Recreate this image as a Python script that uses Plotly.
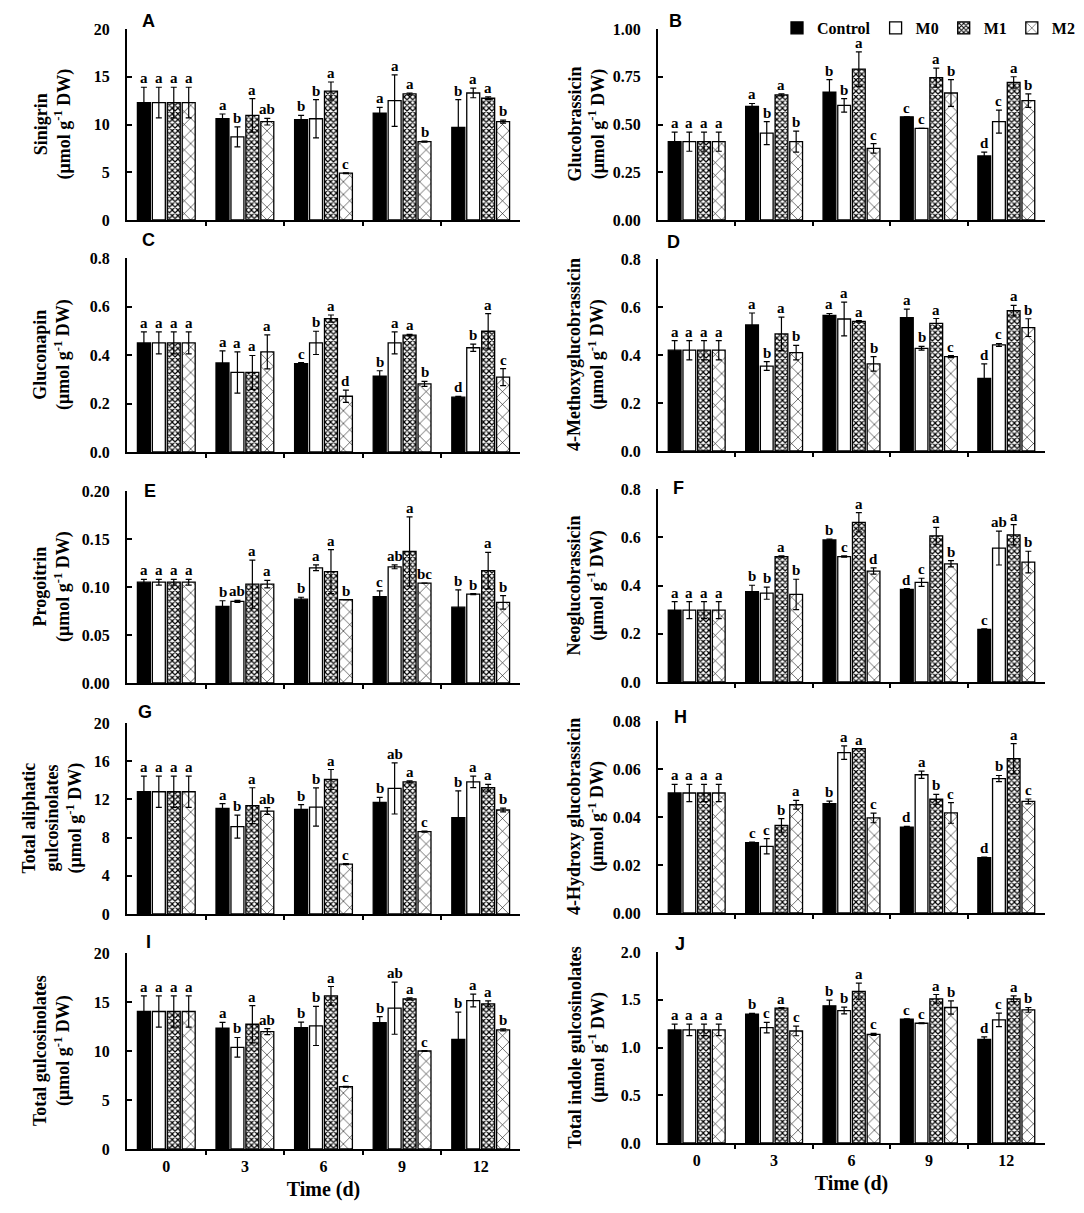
import plotly.graph_objects as go

TIMES = ["0", "3", "6", "9", "12"]
TREATMENTS = ["Control", "M0", "M1", "M2"]

# every block: rows = Control, M0, M1, M2 ; columns = day 0, 3, 6, 9, 12
SINIGRIN = [[12.3, 10.6, 10.5, 11.2, 9.7],
            [12.3, 8.7, 10.6, 12.5, 13.3],
            [12.3, 10.95, 13.5, 13.2, 12.75],
            [12.3, 10.3, 4.9, 8.2, 10.3]]
SINIGRIN_SD = [[1.6, 0.5, 0.45, 0.6, 2.9],
               [1.6, 1.05, 2.0, 2.7, 0.5],
               [1.6, 1.75, 0.95, 0.1, 0.15],
               [1.6, 0.35, 0.05, 0.05, 0.15]]
SINIGRIN_SIG = [["a", "a", "b", "a", "b"],
                ["a", "b", "b", "a", "a"],
                ["a", "a", "a", "a", "a"],
                ["a", "ab", "c", "b", "b"]]

GLUCOBRASSICIN = [[0.41, 0.595, 0.67, 0.54, 0.335],
                  [0.41, 0.455, 0.60, 0.48, 0.515],
                  [0.41, 0.655, 0.79, 0.745, 0.72],
                  [0.41, 0.41, 0.375, 0.665, 0.625]]
GLUCOBRASSICIN_SD = [[0.05, 0.015, 0.065, 0.0, 0.02],
                     [0.05, 0.06, 0.035, 0.0, 0.06],
                     [0.05, 0.005, 0.09, 0.05, 0.03],
                     [0.05, 0.055, 0.025, 0.07, 0.035]]
GLUCOBRASSICIN_SIG = [["a", "a", "b", "c", "d"],
                      ["a", "b", "b", "c", "c"],
                      ["a", "a", "a", "a", "a"],
                      ["a", "b", "c", "b", "b"]]

GLUCONAPIN = [[0.45, 0.367, 0.364, 0.313, 0.226],
              [0.45, 0.328, 0.45, 0.45, 0.43],
              [0.45, 0.328, 0.55, 0.482, 0.498],
              [0.45, 0.413, 0.23, 0.281, 0.309]]
GLUCONAPIN_SD = [[0.045, 0.05, 0.005, 0.022, 0.003],
                 [0.045, 0.085, 0.048, 0.045, 0.015],
                 [0.045, 0.07, 0.015, 0.003, 0.073],
                 [0.045, 0.07, 0.025, 0.01, 0.035]]
GLUCONAPIN_SIG = [["a", "a", "c", "b", "d"],
                  ["a", "a", "b", "a", "b"],
                  ["a", "a", "a", "a", "a"],
                  ["a", "a", "d", "b", "c"]]

METHOXY = [[0.42, 0.525, 0.565, 0.556, 0.303],
           [0.42, 0.354, 0.55, 0.428, 0.442],
           [0.42, 0.488, 0.54, 0.532, 0.585],
           [0.42, 0.41, 0.363, 0.393, 0.514]]
METHOXY_SD = [[0.04, 0.05, 0.008, 0.035, 0.06],
              [0.04, 0.018, 0.07, 0.008, 0.006],
              [0.04, 0.07, 0.003, 0.02, 0.022],
              [0.04, 0.03, 0.03, 0.004, 0.037]]
METHOXY_SIG = [["a", "a", "a", "a", "d"],
               ["a", "b", "a", "b", "c"],
               ["a", "a", "a", "a", "a"],
               ["a", "b", "b", "c", "b"]]

PROGOITRIN = [[0.105, 0.0797, 0.0873, 0.09, 0.079],
              [0.105, 0.085, 0.12, 0.121, 0.0925],
              [0.105, 0.103, 0.116, 0.137, 0.117],
              [0.105, 0.103, 0.0867, 0.104, 0.084]]
PROGOITRIN_SD = [[0.003, 0.006, 0.002, 0.006, 0.018],
                 [0.003, 0.001, 0.003, 0.002, 0.0005],
                 [0.003, 0.025, 0.023, 0.036, 0.019],
                 [0.003, 0.004, 0.0, 0.0, 0.007]]
PROGOITRIN_SIG = [["a", "b", "b", "c", "b"],
                  ["a", "ab", "a", "ab", "b"],
                  ["a", "a", "a", "a", "a"],
                  ["a", "a", "b", "bc", "b"]]

NEOGLUCOBRASSICIN = [[0.298, 0.374, 0.589, 0.384, 0.218],
                     [0.298, 0.368, 0.52, 0.413, 0.555],
                     [0.298, 0.52, 0.662, 0.606, 0.61],
                     [0.298, 0.363, 0.46, 0.49, 0.497]]
NEOGLUCOBRASSICIN_SD = [[0.035, 0.027, 0.003, 0.003, 0.002],
                        [0.035, 0.025, 0.003, 0.017, 0.07],
                        [0.035, 0.003, 0.04, 0.035, 0.042],
                        [0.035, 0.063, 0.013, 0.013, 0.045]]
NEOGLUCOBRASSICIN_SIG = [["a", "b", "b", "d", "c"],
                         ["a", "b", "c", "c", "ab"],
                         ["a", "a", "a", "a", "a"],
                         ["a", "b", "d", "b", "b"]]

ALIPHATIC = [[12.8, 11.06, 10.96, 11.69, 10.09],
             [12.8, 9.15, 11.2, 13.15, 13.84],
             [12.8, 11.34, 14.09, 13.84, 13.22],
             [12.8, 10.78, 5.22, 8.63, 10.89]]
ALIPHATIC_SD = [[1.63, 0.5, 0.5, 0.52, 2.8],
                [1.63, 1.2, 2.0, 2.68, 0.6],
                [1.63, 1.88, 1.04, 0.1, 0.35],
                [1.63, 0.35, 0.05, 0.05, 0.2]]
ALIPHATIC_SIG = [["a", "a", "b", "b", "b"],
                 ["a", "b", "b", "ab", "a"],
                 ["a", "a", "a", "a", "a"],
                 ["a", "ab", "c", "c", "b"]]

HYDROXY = [[0.05, 0.0293, 0.0456, 0.0358, 0.0231],
           [0.05, 0.0278, 0.0668, 0.0576, 0.056],
           [0.05, 0.0365, 0.0685, 0.0474, 0.0643],
           [0.05, 0.0451, 0.0396, 0.0417, 0.0465]]
HYDROXY_SD = [[0.0036, 0.0002, 0.001, 0.0003, 0.0002],
              [0.0036, 0.0032, 0.0028, 0.0015, 0.0013],
              [0.0036, 0.0028, 0.0, 0.002, 0.0063],
              [0.0036, 0.0018, 0.002, 0.0043, 0.001]]
HYDROXY_SIG = [["a", "c", "b", "d", "d"],
               ["a", "c", "a", "a", "b"],
               ["a", "b", "a", "b", "a"],
               ["a", "a", "c", "c", "c"]]

TOTAL = [[14.03, 12.32, 12.39, 12.9, 11.19],
         [14.03, 10.38, 12.56, 14.37, 15.15],
         [14.03, 12.73, 15.63, 15.32, 14.81],
         [14.03, 11.98, 6.35, 10.0, 12.15]]
TOTAL_SD = [[1.6, 0.6, 0.55, 0.6, 2.77],
            [1.6, 1.0, 2.0, 2.66, 0.65],
            [1.6, 1.9, 0.95, 0.1, 0.3],
            [1.6, 0.3, 0.05, 0.05, 0.1]]
TOTAL_SIG = [["a", "a", "b", "b", "b"],
             ["a", "b", "b", "ab", "a"],
             ["a", "a", "a", "a", "a"],
             ["a", "ab", "c", "c", "b"]]

INDOLE = [[1.184, 1.348, 1.436, 1.296, 1.086],
          [1.184, 1.208, 1.387, 1.254, 1.289],
          [1.184, 1.412, 1.587, 1.51, 1.51],
          [1.184, 1.173, 1.138, 1.419, 1.394]]
INDOLE_SD = [[0.06, 0.01, 0.06, 0.005, 0.025],
             [0.06, 0.055, 0.035, 0.003, 0.07],
             [0.06, 0.005, 0.087, 0.045, 0.03],
             [0.06, 0.05, 0.01, 0.07, 0.025]]
INDOLE_SIG = [["a", "b", "b", "c", "d"],
              ["a", "c", "b", "c", "c"],
              ["a", "a", "a", "a", "a"],
              ["a", "c", "c", "b", "b"]]

UNIT = "(μmol g<sup>-1</sup> DW)"

# letter, y title, means, sd, letters, y max, dtick, tick format
PANELS = [
    ("A", "Sinigrin<br>" + UNIT, SINIGRIN, SINIGRIN_SD, SINIGRIN_SIG, 20, 5, "d"),
    ("B", "Glucobrassicin<br>" + UNIT, GLUCOBRASSICIN, GLUCOBRASSICIN_SD, GLUCOBRASSICIN_SIG, 1.0, 0.25, ".2f"),
    ("C", "Gluconapin<br>" + UNIT, GLUCONAPIN, GLUCONAPIN_SD, GLUCONAPIN_SIG, 0.8, 0.2, ".1f"),
    ("D", "4-Methoxyglucobrassicin<br>" + UNIT, METHOXY, METHOXY_SD, METHOXY_SIG, 0.8, 0.2, ".1f"),
    ("E", "Progoitrin<br>" + UNIT, PROGOITRIN, PROGOITRIN_SD, PROGOITRIN_SIG, 0.2, 0.05, ".2f"),
    ("F", "Neoglucobrassicin<br>" + UNIT, NEOGLUCOBRASSICIN, NEOGLUCOBRASSICIN_SD, NEOGLUCOBRASSICIN_SIG, 0.8, 0.2, ".1f"),
    ("G", "Total aliphatic<br>gulcosinolates<br>" + UNIT, ALIPHATIC, ALIPHATIC_SD, ALIPHATIC_SIG, 20, 4, "d"),
    ("H", "4-Hydroxy glucobrassicin<br>" + UNIT, HYDROXY, HYDROXY_SD, HYDROXY_SIG, 0.08, 0.02, ".2f"),
    ("I", "Total gulcosinolates<br>" + UNIT, TOTAL, TOTAL_SD, TOTAL_SIG, 20, 5, "d"),
    ("J", "Total indole gulcosinolates<br>" + UNIT, INDOLE, INDOLE_SD, INDOLE_SIG, 2.0, 0.5, ".1f"),
]

W, H = 1084, 1213
PAGE_OFFSET = 8  # default body margin of the html page shifts the plot
SERIF = "Liberation Serif, Times New Roman, serif"
SANS = "Liberation Sans, Arial, sans-serif"


def px_x(v):
    return (v - PAGE_OFFSET) / W


def px_y(v):
    return 1 - (v - PAGE_OFFSET) / H


# screen pixel boxes of the plot areas
X_PX = [(127, 520), (658, 1045)]
Y_PX = [[(29, 220), (258, 452), (491, 683), (723, 914), (953, 1149)],
        [(29, 220), (259, 451), (489, 682), (721, 913), (952, 1143)]]
TITLE_X = [52, 586]
# top edge of the panel letter boxes
LETTER_POS = [(148, 9), (675, 9), (148, 228), (673, 230), (150, 479),
              (678, 476), (145, 700), (680, 705), (148, 930), (680, 932)]

OFFSETS = [-0.285, -0.095, 0.095, 0.285]
BAR_W = 0.165

STYLES = {
    "Control": dict(color="black"),
    "M0": dict(color="white"),
    "M1": dict(color="white", pattern=dict(shape="x", size=4, solidity=0.5,
                                           fgcolor="black", bgcolor="white")),
    "M2": dict(color="white", pattern=dict(shape="x", size=9, solidity=0.12,
                                           fgcolor="black", bgcolor="white")),
}

fig = go.Figure()
layout = {}

for i, (letter, ytitle, means, sds, sigs, ymax, dtick, fmt) in enumerate(PANELS):
    n = "" if i == 0 else str(i + 1)
    row, col = i // 2, i % 2
    x0, x1 = X_PX[col]
    y0, y1 = Y_PX[col][row]

    for k, name in enumerate(TREATMENTS):
        xs = [g + OFFSETS[k] for g in range(len(TIMES))]
        fig.add_bar(x=xs, y=means[k], width=BAR_W, name=name,
                    legendgroup=name, showlegend=(i == 0),
                    marker=dict(line=dict(color="black", width=1.3), **STYLES[name]),
                    error_y=dict(type="data", array=sds[k], visible=True,
                                 color="black", thickness=1.2, width=3),
                    xaxis="x" + n, yaxis="y" + n)
        for g in range(len(TIMES)):
            fig.add_annotation(x=xs[g], y=means[k][g] + sds[k][g], text=sigs[k][g],
                               xref="x" + n, yref="y" + n, showarrow=False,
                               yanchor="bottom", yshift=-1,
                               font=dict(family=SERIF, size=15, color="black", weight="bold"))

    bottom = row == 4
    xaxis = dict(
        domain=[px_x(x0), px_x(x1)], anchor="y" + n, range=[-0.5, 4.5],
        showline=True, linecolor="black", linewidth=2, showgrid=False, zeroline=False,
        tickmode="array", tickvals=list(range(len(TIMES))), ticktext=TIMES, ticks="",
        showticklabels=bottom, ticklabelstandoff=2,
        tickfont=dict(family=SERIF, size=16, color="black", weight="bold"),
        minor=dict(tickmode="array", tickvals=[0.5, 1.5, 2.5, 3.5], ticks="outside",
                   ticklen=4, tickwidth=1.5, tickcolor="black"),
    )
    if bottom:
        xaxis["title"] = dict(text="Time (d)", standoff=8,
                              font=dict(family=SERIF, size=20, color="black", weight="bold"))
    layout["xaxis" + n] = xaxis
    layout["yaxis" + n] = dict(
        domain=[px_y(y1), px_y(y0)], anchor="x" + n, range=[0, ymax],
        tick0=0, dtick=dtick, tickformat=fmt,
        showline=True, linecolor="black", linewidth=2, showgrid=False, zeroline=False,
        ticks="inside", ticklen=5, tickwidth=1.5, tickcolor="black", ticklabelstandoff=12,
        tickfont=dict(family=SERIF, size=16, color="black", weight="bold"),
    )

    fig.add_annotation(x=px_x(TITLE_X[col]), y=px_y((y0 + y1) / 2), xref="paper", yref="paper",
                       text=ytitle, textangle=-90, showarrow=False,
                       xanchor="center", yanchor="middle",
                       font=dict(family=SERIF, size=18, color="black", weight="bold"))
    lx, ly = LETTER_POS[i]
    fig.add_annotation(x=px_x(lx), y=px_y(ly), xref="paper", yref="paper", text=letter,
                       showarrow=False, xanchor="center", yanchor="top",
                       font=dict(family=SANS, size=18, color="black", weight="bold"))

fig.update_layout(
    template="none",
    width=W, height=H,
    margin=dict(l=0, r=0, t=0, b=0),
    paper_bgcolor="white", plot_bgcolor="white",
    barmode="overlay",
    font=dict(family=SERIF, color="black"),
    legend=dict(orientation="h", x=px_x(1080), xanchor="right", y=px_y(28), yanchor="middle",
                font=dict(family=SERIF, size=16, color="black", weight="bold"),
                itemwidth=30, bgcolor="rgba(0,0,0,0)", traceorder="normal"),
    **layout,
)

fig.write_html("out.html")
